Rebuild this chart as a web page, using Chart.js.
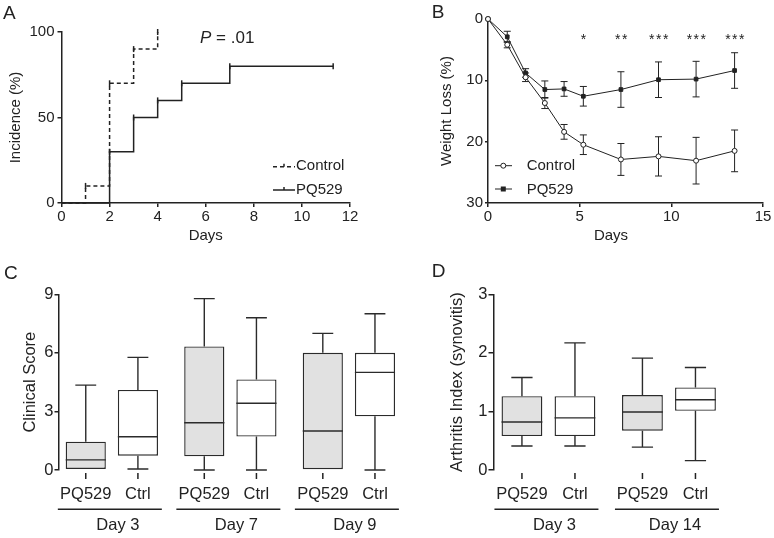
<!DOCTYPE html>
<html>
<head>
<meta charset="utf-8">
<script src="https://cdn.jsdelivr.net/npm/chart.js@4.4.1/dist/chart.umd.min.js"></script>
<style>
  html, body { margin: 0; padding: 0; background: #fff; }
  #page { position: relative; width: 774px; height: 538px; overflow: hidden; }
  #page canvas { position: absolute; left: 0; top: 0; }
</style>
</head>
<body>
<div id="page">
  <canvas id="chartA" width="774" height="538"></canvas>
  <canvas id="chartB" width="774" height="538"></canvas>
  <canvas id="chartC" width="774" height="538"></canvas>
  <canvas id="chartD" width="774" height="538"></canvas>
</div>
<script>
// ---- A: incidence (Kaplan-Meier style steps)
const aControlDays = [0, 1, 2, 3, 4];
const aControlInc = [0, 10, 70, 90, 100];
const aPqDays = [0, 2, 3, 4, 5, 7, 11.3];
const aPqInc = [0, 30, 50, 60, 70, 80, 80];

// ---- B: weight loss, mean +/- error
const bDays = [0, 1.05, 2.05, 3.1, 4.15, 5.2, 7.25, 9.3, 11.35, 13.45];
const bControl = [0, 4.2, 9.5, 13.7, 18.4, 20.5, 22.9, 22.4, 23.1, 21.5];
const bControlErr = [0, 0.5, 0.7, 0.9, 1.2, 1.6, 2.6, 3.2, 3.8, 3.4];
const bPQ529 = [0, 2.9, 8.8, 11.5, 11.4, 12.6, 11.5, 9.9, 9.8, 8.4];
const bPQ529Err = [0, 0.9, 0.7, 1.4, 1.2, 1.6, 2.9, 2.9, 2.9, 2.9];
const bStars = ['', '', '', '', '', '*', '**', '***', '***', '***'];

// ---- C: clinical score boxes  [min, q1, median, q3, max]
const cDays = ['Day 3', 'Day 7', 'Day 9'];
const cPQ529 = [[0.05, 0.05, 0.52, 1.45, 4.35], [0, 0.7, 2.42, 6.33, 8.78], [0, 0, 2, 6, 7]];
const cCtrl = [[0.05, 0.73, 1.7, 4.1, 5.77], [0, 1.71, 3.42, 4.64, 7.8], [0, 2.75, 5, 6, 8]];

// ---- D: arthritis index boxes  [min, q1, median, q3, max]
const dDays = ['Day 3', 'Day 14'];
const dPQ529 = [[0.41, 0.58, 0.82, 1.26, 1.58], [0.39, 0.67, 0.99, 1.28, 1.91]];
const dCtrl = [[0.41, 0.58, 0.89, 1.26, 2.17], [0.16, 1.01, 1.2, 1.41, 1.75]];

const INK = '#222';
const BOX_EDGE = '#2b2b2b';
const BOX_FILL = '#e1e1e1';
const FONT = '"Liberation Sans", Arial, Helvetica, sans-serif';

Chart.defaults.font.family = FONT;
Chart.defaults.color = INK;

const base = {
    responsive: false,
    animation: false,
    devicePixelRatio: 1,
    events: []
};
const noLegend = { legend: { display: false }, tooltip: { enabled: false } };

function axis(extra, tickLen = 4) {
    return Object.assign({
        border: { display: true, color: INK, width: 1.5 },
        grid: { display: true, drawOnChartArea: false, drawTicks: true, color: INK, lineWidth: 1.5, tickLength: tickLen }
    }, extra);
}

function letter(ctx, txt, x, y) {
    ctx.font = '19px ' + FONT;
    ctx.textAlign = 'left';
    ctx.textBaseline = 'alphabetic';
    ctx.fillText(txt, x, y);
}

// ========== A ==========
const notesA = {
    id: 'notesA',
    afterDraw(chart) {
        const ctx = chart.ctx;
        ctx.save();
        ctx.fillStyle = INK;
        ctx.strokeStyle = INK;
        letter(ctx, 'A', 3, 19.3);

        ctx.font = 'italic 17px ' + FONT;
        ctx.fillText('P', 200, 42.7);
        const w = ctx.measureText('P').width;
        ctx.font = '17px ' + FONT;
        ctx.fillText(' = .01', 200 + w, 42.7);

        // legend
        ctx.lineWidth = 1.5;
        [[166.7, [4, 3], 'Control'], [190, [], 'PQ529']].forEach(([y, dash, txt]) => {
            ctx.setLineDash(dash);
            ctx.beginPath(); ctx.moveTo(273, y); ctx.lineTo(295, y); ctx.stroke();
            ctx.setLineDash([]);
            ctx.beginPath(); ctx.moveTo(284, y - 3); ctx.lineTo(284, y); ctx.stroke();
            ctx.font = '15px ' + FONT;
            ctx.textBaseline = 'middle';
            ctx.fillText(txt, 296, y - 0.5);
        });
        ctx.restore();
    }
};

new Chart(document.getElementById('chartA'), {
    type: 'line',
    data: {
        datasets: [
            {
                label: 'Control',
                data: aControlDays.map((d, i) => ({ x: d, y: aControlInc[i] })),
                stepped: true, borderColor: INK, borderWidth: 1.5, borderDash: [4, 3], fill: false,
                pointStyle: 'line', rotation: 90, pointRadius: [0, 3, 3, 3, 3],
                pointBorderColor: INK, pointBorderWidth: 1.5, clip: false
            },
            {
                label: 'PQ529',
                data: aPqDays.map((d, i) => ({ x: d, y: aPqInc[i] })),
                stepped: true, borderColor: INK, borderWidth: 1.5, fill: false,
                pointStyle: 'line', rotation: 90, pointRadius: [0, 3, 3, 3, 3, 3, 3],
                pointBorderColor: INK, pointBorderWidth: 1.5, clip: false
            }
        ]
    },
    options: {
        ...base,
        layout: { padding: { left: 3, top: 32, right: 424, bottom: 288 } },
        plugins: noLegend,
        scales: {
            x: axis({
                type: 'linear', min: 0, max: 12,
                ticks: { stepSize: 2, padding: 1, font: { size: 15 } },
                title: { display: true, text: 'Days', font: { size: 15 }, padding: { top: 0, bottom: 5 } },
                afterFit: s => { s.height = 47; }
            }),
            y: axis({
                type: 'linear', min: 0, max: 100,
                ticks: { stepSize: 50, padding: 3, font: { size: 15 } },
                title: { display: true, text: 'Incidence (%)', font: { size: 15 }, padding: { top: 4, bottom: 0 } },
                afterFit: s => { s.width = 58.5; }
            })
        }
    },
    plugins: [notesA]
});

// ========== B ==========
const errorBars = {
    id: 'errorBars',
    beforeDatasetsDraw(chart) {
        const { ctx, scales: { x, y } } = chart;
        ctx.save();
        ctx.strokeStyle = INK;
        ctx.lineWidth = 1;
        [[bControl, bControlErr], [bPQ529, bPQ529Err]].forEach(([vals, errs]) => {
            vals.forEach((v, i) => {
                if (!errs[i]) return;
                const px = x.getPixelForValue(bDays[i]);
                const lo = y.getPixelForValue(v - errs[i]);
                const hi = y.getPixelForValue(v + errs[i]);
                ctx.beginPath();
                ctx.moveTo(px, lo); ctx.lineTo(px, hi);
                ctx.moveTo(px - 3.5, lo); ctx.lineTo(px + 3.5, lo);
                ctx.moveTo(px - 3.5, hi); ctx.lineTo(px + 3.5, hi);
                ctx.stroke();
            });
        });
        ctx.restore();
    }
};

const notesB = {
    id: 'notesB',
    afterDraw(chart) {
        const { ctx, scales: { x } } = chart;
        ctx.save();
        ctx.fillStyle = INK;
        ctx.strokeStyle = INK;
        letter(ctx, 'B', 431.7, 18.3);

        // significance stars
        ctx.font = '14px ' + FONT;
        ctx.textAlign = 'center';
        ctx.textBaseline = 'alphabetic';
        ctx.letterSpacing = '1.5px';
        bStars.forEach((s, i) => {
            if (s) ctx.fillText(s, x.getPixelForValue(bDays[i]) + 1, 44);
        });
        ctx.letterSpacing = '0px';

        // x title
        ctx.font = '15px ' + FONT;
        ctx.textBaseline = 'middle';
        ctx.fillText('Days', 611, 236);

        // legend
        ctx.lineWidth = 1;
        ctx.textAlign = 'left';
        [[165.7, 'Control'], [189, 'PQ529']].forEach(([y, txt], k) => {
            ctx.beginPath(); ctx.moveTo(495, y); ctx.lineTo(512, y); ctx.stroke();
            if (k === 0) {
                ctx.beginPath(); ctx.arc(503.3, y, 2.5, 0, Math.PI * 2);
                ctx.fillStyle = '#fff'; ctx.fill(); ctx.stroke();
                ctx.fillStyle = INK;
            } else {
                ctx.fillRect(500.8, y - 2.5, 5, 5);
            }
            ctx.fillText(txt, 526.7, y + 0.5);
        });
        ctx.restore();
    }
};

new Chart(document.getElementById('chartB'), {
    type: 'line',
    data: {
        datasets: [
            {
                label: 'Control',
                data: bDays.map((d, i) => ({ x: d, y: bControl[i] })),
                borderColor: INK, borderWidth: 1, fill: false,
                pointStyle: 'circle', pointRadius: 2.5,
                pointBackgroundColor: '#fff', pointBorderColor: INK, pointBorderWidth: 1, clip: false
            },
            {
                label: 'PQ529',
                data: bDays.map((d, i) => ({ x: d, y: bPQ529[i] })),
                borderColor: INK, borderWidth: 1, fill: false,
                pointStyle: 'rect', pointRadius: 2.6,
                pointBackgroundColor: INK, pointBorderColor: INK, pointBorderWidth: 1, clip: false
            }
        ]
    },
    options: {
        ...base,
        layout: { padding: { left: 434, top: 19, right: 11, bottom: 288 } },
        plugins: noLegend,
        scales: {
            x: axis({
                type: 'linear', min: 0, max: 15,
                ticks: { stepSize: 5, padding: 1, font: { size: 15 } },
                afterFit: s => { s.height = 47; }
            }),
            y: axis({
                type: 'linear', min: 0, max: 30, reverse: true,
                ticks: { stepSize: 10, padding: 2, font: { size: 15 } },
                title: { display: true, text: 'Weight Loss (%)', font: { size: 15 }, padding: { top: 4, bottom: 0 } },
                afterFit: s => { s.width = 54; }
            }, 3)
        }
    },
    plugins: [errorBars, notesB]
});

// ========== C & D: box plots ==========
function boxWhiskers(series) {
    return {
        id: 'boxWhiskers',
        afterDatasetsDraw(chart) {
            const { ctx, scales: { y } } = chart;
            ctx.save();
            ctx.strokeStyle = BOX_EDGE;
            ctx.lineWidth = 1.4;
            series.forEach((stats, di) => {
                chart.getDatasetMeta(di).data.forEach((bar, i) => {
                    const [lo, q1, med, q3, hi] = stats[i];
                    const half = bar.width / 2;
                    const cap = bar.width * 0.26;
                    const py = v => y.getPixelForValue(v);
                    ctx.beginPath();
                    ctx.moveTo(bar.x - half, py(med)); ctx.lineTo(bar.x + half, py(med));
                    if (hi > q3) {
                        ctx.moveTo(bar.x, py(q3)); ctx.lineTo(bar.x, py(hi));
                        ctx.moveTo(bar.x - cap, py(hi)); ctx.lineTo(bar.x + cap, py(hi));
                    }
                    if (lo < q1) {
                        ctx.moveTo(bar.x, py(q1)); ctx.lineTo(bar.x, py(lo));
                        ctx.moveTo(bar.x - cap, py(lo)); ctx.lineTo(bar.x + cap, py(lo));
                    }
                    ctx.stroke();
                });
            });
            ctx.restore();
        }
    };
}

function groupLabels(days, tag, tagX, tagY) {
    return {
        id: 'groupLabels',
        afterDraw(chart) {
            const { ctx, scales: { x, y } } = chart;
            const zero = y.getPixelForValue(0);
            ctx.save();
            ctx.fillStyle = INK;
            ctx.strokeStyle = INK;
            letter(ctx, tag, tagX, tagY);
            ctx.font = '16.5px ' + FONT;
            ctx.textAlign = 'center';
            ctx.textBaseline = 'middle';
            ctx.lineWidth = 1.5;
            chart.data.datasets.forEach((ds, di) => {
                chart.getDatasetMeta(di).data.forEach(bar => {
                    ctx.beginPath(); ctx.moveTo(bar.x, zero + 3); ctx.lineTo(bar.x, zero + 9); ctx.stroke();
                    ctx.fillText(ds.label, bar.x, zero + 24.5);
                });
            });
            days.forEach((d, g) => {
                const cx = x.getPixelForValue(g);
                ctx.beginPath(); ctx.moveTo(cx - 54, zero + 39.3); ctx.lineTo(cx + 50, zero + 39.3); ctx.stroke();
                ctx.fillText(d, cx + 6, zero + 55);
            });
            ctx.restore();
        }
    };
}

function makeBoxChart(id, days, pqStats, ctrlStats, cfg) {
    const toBars = stats => stats.map((s, i) => ({ x: i, y: [s[1], s[3]] }));
    const boxStyle = {
        borderColor: BOX_EDGE, borderWidth: 1.4, borderSkipped: false,
        categoryPercentage: 0.88, barPercentage: 0.77
    };
    return new Chart(document.getElementById(id), {
        type: 'bar',
        data: {
            datasets: [
                { label: 'PQ529', data: toBars(pqStats), backgroundColor: BOX_FILL, ...boxStyle },
                { label: 'Ctrl', data: toBars(ctrlStats), backgroundColor: '#fff', ...boxStyle }
            ]
        },
        options: {
            ...base,
            layout: { padding: cfg.padding },
            plugins: noLegend,
            scales: {
                x: {
                    type: 'linear', display: false, offset: false,
                    min: cfg.xMin, max: cfg.xMax,
                    ticks: { stepSize: 1, includeBounds: false },
                    grid: { display: false, offset: false }
                },
                y: axis({
                    type: 'linear', min: 0, max: cfg.yMax,
                    ticks: { stepSize: cfg.yStep, padding: 1, font: { size: 16.5 } },
                    title: { display: true, text: cfg.title, font: { size: 16.5 }, padding: { top: 4, bottom: 0 } },
                    afterFit: s => { s.width = cfg.yWidth; }
                }, cfg.tickLen)
            }
        },
        plugins: [boxWhiskers([pqStats, ctrlStats]), groupLabels(days, cfg.tag, cfg.tagX, cfg.tagY)]
    });
}

makeBoxChart('chartC', cDays, cPQ529, cCtrl, {
    padding: { left: 16.8, top: 294.3, right: 354, bottom: 68 },
    yWidth: 41.7, xMin: -0.45, xMax: 2.6, yMax: 9, yStep: 3, tickLen: 4,
    title: 'Clinical Score', tag: 'C', tagX: 4, tagY: 279.3
});

makeBoxChart('chartD', dDays, dPQ529, dCtrl, {
    padding: { left: 443.4, top: 294.3, right: 32.75, bottom: 68 },
    yWidth: 50.1, xMin: -0.456, xMax: 1.6, yMax: 3, yStep: 1, tickLen: 5,
    title: 'Arthritis Index (synovitis)', tag: 'D', tagX: 431.7, tagY: 277.3
});
</script>
</body>
</html>
